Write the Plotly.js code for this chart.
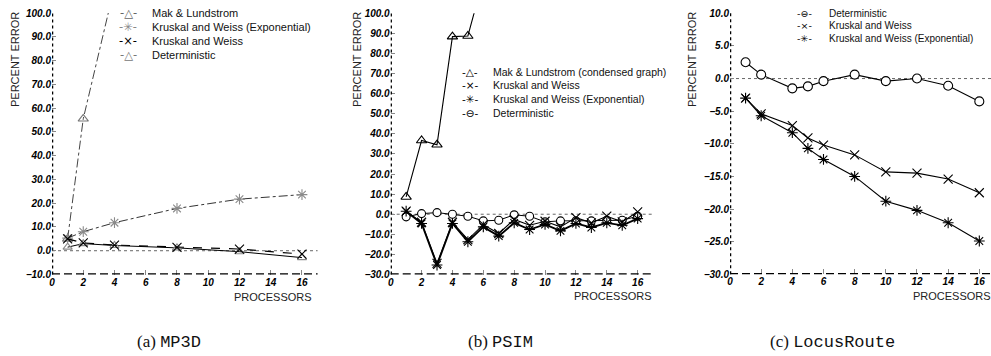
<!DOCTYPE html>
<html>
<head>
<meta charset="utf-8">
<script src="https://cdn.plot.ly/plotly-3.0.1.min.js"></script>
<style>
html,body{margin:0;padding:0;background:#fff;}
#chart{width:991px;height:356px;}
</style>
</head>
<body>
<div id="chart"></div>
<script>
// ---------- data ----------
const xTicks = [0, 2, 4, 6, 8, 10, 12, 14, 16];

// (a) MP3D
const procA = [1, 2, 4, 8, 12, 16];
const procMakA = [1, 2, 4];
const makA = [5, 55.5, 111];
const kwExpA = [5.3, 8.0, 11.8, 17.8, 21.7, 23.6];
const kwA = [5.0, 3.3, 2.4, 1.4, 0.7, -1.4];
const detA = [1.5, 3.0, 2.2, 1.2, -0.4, -2.9];

// (b) PSIM
const procB = [1, 2, 3, 4, 5, 6, 7, 8, 9, 10, 11, 12, 13, 14, 15, 16];
const procMakB = [1, 2, 3, 4, 5, 6];
const makB = [8.6, 36.7, 34.6, 88.4, 88.7, 117];
const kwB = [1.5, -4.0, -24.5, -4.0, -12.6, -5.2, -9.6, -2.6, -5.5, -3.5, -6.3, -1.7, -4.3, -1.0, -3.8, 1.2];
const kwExpB = [1.5, -4.6, -25.3, -4.6, -13.7, -6.3, -10.9, -4.3, -7.6, -5.1, -8.3, -4.6, -6.6, -4.3, -5.5, -2.2];
const detB = [-1.3, 0.3, 0.8, 0.0, -1.0, -3.3, -3.0, -0.3, -1.0, -3.8, -3.3, -3.3, -3.3, -3.0, -3.0, -1.0];

// (c) LocusRoute
const procC = [1, 2, 4, 5, 6, 8, 10, 12, 14, 16];
const detC = [2.5, 0.6, -1.5, -1.2, -0.4, 0.6, -0.4, 0.0, -1.1, -3.5];
const kwC = [-3.0, -5.4, -7.2, -9.1, -10.2, -11.7, -14.3, -14.5, -15.4, -17.5];
const kwExpC = [-3.0, -5.7, -8.3, -10.7, -12.4, -15.0, -18.8, -20.2, -22.1, -24.9];

// legend / caption text
const legendA = ["Mak & Lundstrom", "Kruskal and Weiss (Exponential)", "Kruskal and Weiss", "Deterministic"];
const legendB = ["Mak & Lundstrom (condensed graph)", "Kruskal and Weiss", "Kruskal and Weiss (Exponential)", "Deterministic"];
const legendC = ["Deterministic", "Kruskal and Weiss", "Kruskal and Weiss (Exponential)"];
const captions = [["(a)", "MP3D"], ["(b)", "PSIM"], ["(c)", "LocusRoute"]];

// ---------- helpers ----------
const W = 991, H = 356;
const px = v => v / W;
const py = v => 1 - v / H;
const SANS = "Liberation Sans, Arial, sans-serif";

function ann(text, x, y, o) {
  o = o || {};
  return Object.assign({
    text: text, x: px(x), y: py(y), xref: "paper", yref: "paper",
    showarrow: false, xanchor: "left", yanchor: "middle", borderpad: 0,
    font: {family: SANS, size: 11, color: "#111"}
  }, o);
}

function tr(x, y, xa, ya, symbol, mcolor, lcolor, dash, lw, msize) {
  return {
    x: x, y: y, xaxis: xa, yaxis: ya, type: "scatter", mode: "lines+markers",
    line: {color: lcolor, width: lw, dash: dash},
    marker: {symbol: symbol, size: msize || 8,
      color: symbol.indexOf("open") >= 0 ? mcolor : "#fff",
      line: {color: mcolor, width: 1.1}},
    showlegend: false, hoverinfo: "skip"
  };
}

const traces = [
  // (a)
  tr(procMakA, makA, "x", "y", "triangle-up-open", "#777", "#444", "dashdot", 1, 9),
  tr(procA, kwExpA, "x", "y", "asterisk-open", "#8a8a8a", "#333", "dashdot", 1, 9),
  tr(procA, detA, "x", "y", "triangle-up-open", "#8a8a8a", "#000", "solid", 1, 8),
  tr(procA, kwA, "x", "y", "x-thin-open", "#000", "#000", "dash", 1.2, 9),
  // (b)
  tr(procMakB, makB, "x2", "y2", "triangle-up-open", "#000", "#000", "solid", 1.1, 9),
  tr(procB, detB, "x2", "y2", "circle", "#000", "#000", "solid", 1, 8),
  tr(procB, kwB, "x2", "y2", "x-thin-open", "#000", "#000", "solid", 1.1, 9),
  tr(procB, kwExpB, "x2", "y2", "asterisk-open", "#000", "#000", "solid", 1.8, 9),
  // (c)
  tr(procC, detC, "x3", "y3", "circle", "#000", "#000", "solid", 1.1, 9),
  tr(procC, kwC, "x3", "y3", "x-thin-open", "#000", "#000", "solid", 1.1, 9),
  tr(procC, kwExpC, "x3", "y3", "asterisk-open", "#000", "#000", "solid", 1.1, 9)
];

const tickFont = {family: SANS, size: 10, color: "#000", weight: "bold", style: "italic"};

function xAxis(domain, range, anchor) {
  return {domain: domain, range: range, anchor: anchor, tickmode: "array", tickvals: xTicks,
    ticktext: xTicks.map(String), ticks: "inside", ticklen: 5, tickcolor: "#888", tickwidth: 1,
    showline: false, showgrid: false, zeroline: false, tickfont: tickFont, fixedrange: true};
}
function yAxis(domain, range, dtick, anchor) {
  return {domain: domain, range: range, anchor: anchor, tick0: 0, dtick: dtick, tickformat: ".1f",
    ticks: "inside", ticklen: 4, tickcolor: "#888", tickwidth: 1,
    showline: false, showgrid: false, zeroline: false, tickfont: tickFont, fixedrange: true};
}

const shapes = [];
function frame(xa, ya, xmin, ymin) {
  shapes.push({type: "line", xref: xa + " domain", yref: ya, x0: 0, x1: 1, y0: 0, y1: 0,
    line: {color: "#666", width: 1, dash: "dot"}, layer: "below"});
  shapes.push({type: "line", xref: xa, yref: ya + " domain", x0: xmin, x1: xmin, y0: 0, y1: 1,
    line: {color: "#000", width: 2.5, dash: "3px,3px"}});
  shapes.push({type: "line", xref: xa + " domain", yref: ya, x0: 0, x1: 1, y0: ymin, y1: ymin,
    line: {color: "#000", width: 2.5, dash: "8px,4px"}});
}
frame("x", "y", 0, -10);
frame("x2", "y2", 0, -30);
frame("x3", "y3", 0, -30);

const annotations = [];
// axis titles
[[15, 60], [357, 60], [692, 60]].forEach(p => {
  annotations.push(ann("PERCENT ERROR", p[0], p[1], {xanchor: "center", textangle: -90, font: {family: SANS, size: 11, color: "#222"}}));
});
[[313, 297], [653, 296], [992, 296]].forEach(p => {
  annotations.push(ann("PROCESSORS", p[0], p[1], {xanchor: "right", font: {family: SANS, size: 11, color: "#222"}}));
});
// legends
const symA = ["-△-", "-✳-", "-×-", "-△-"], colA = ["#666", "#888", "#000", "#777"];
const rowsA = [13.5, 27.3, 41.1, 55];
legendA.forEach((t, i) => {
  annotations.push(ann(symA[i], 128, rowsA[i], {xanchor: "center", font: {family: "DejaVu Sans", size: 11.5, color: colA[i]}}));
  annotations.push(ann(t, 151, rowsA[i], {font: {family: SANS, size: 11, color: "#111"}}));
});
const symB = ["-△-", "-×-", "-✳-", "-⊖-"];
const rowsB = [71.7, 85.4, 99, 112.5];
legendB.forEach((t, i) => {
  annotations.push(ann(symB[i], 470, rowsB[i], {xanchor: "center", font: {family: "DejaVu Sans", size: 10.5, color: "#000"}}));
  annotations.push(ann(t, 492, rowsB[i], {font: {family: SANS, size: 10.5, color: "#111"}}));
});
const symC = ["-⊖-", "-×-", "-✳-"];
const rowsC = [13.3, 25.9, 38.4];
legendC.forEach((t, i) => {
  annotations.push(ann(symC[i], 804, rowsC[i], {xanchor: "center", font: {family: "DejaVu Sans", size: 9.5, color: "#000"}}));
  annotations.push(ann(t, 828, rowsC[i], {font: {family: SANS, size: 10, color: "#111"}}));
});
// captions
const capX = [169, 500, 832];
captions.forEach((c, i) => {
  annotations.push(ann(c[0] + ' <span style="font-family:Liberation Mono, DejaVu Sans Mono, monospace">' + c[1] + '</span>',
    capX[i], 342, {xanchor: "center", font: {family: "Liberation Serif, DejaVu Serif, serif", size: 17, color: "#111"}}));
});

const layout = {
  width: W, height: H, margin: {l: 0, r: 0, t: 0, b: 0},
  paper_bgcolor: "#fff", plot_bgcolor: "rgba(0,0,0,0)", showlegend: false,
  xaxis: xAxis([px(52), px(317.6)], [0, 17], "y"),
  yaxis: yAxis([py(274.5), py(13)], [-10, 100], 10, "x"),
  xaxis2: xAxis([px(390.7), px(653.1)], [0, 17], "y2"),
  yaxis2: yAxis([py(274.5), py(13.3)], [-30, 100], 10, "x2"),
  xaxis3: xAxis([px(730), 1], [0, 16.75], "y3"),
  yaxis3: yAxis([py(274.3), py(13.3)], [-30, 10], 5, "x3"),
  shapes: shapes, annotations: annotations
};

Plotly.newPlot("chart", traces, layout, {staticPlot: true, displayModeBar: false});
</script>
</body>
</html>
